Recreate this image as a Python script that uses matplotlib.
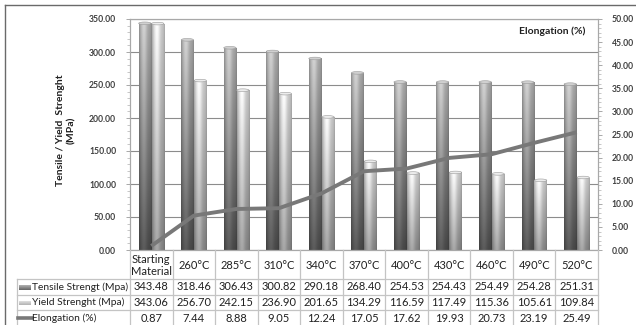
import numpy as np
import matplotlib
matplotlib.use("Agg")
import matplotlib.pyplot as plt
import matplotlib.transforms as mtransforms
from matplotlib.patches import Ellipse
from matplotlib.lines import Line2D

categories = ["Starting\nMaterial", "260°C", "285°C", "310°C", "340°C", "370°C",
              "400°C", "430°C", "460°C", "490°C", "520°C"]
tensile = [343.48, 318.46, 306.43, 300.82, 290.18, 268.40, 254.53, 254.43, 254.49, 254.28, 251.31]
yield_s = [343.06, 256.70, 242.15, 236.90, 201.65, 134.29, 116.59, 117.49, 115.36, 105.61, 109.84]
elong = [0.87, 7.44, 8.88, 9.05, 12.24, 17.05, 17.62, 19.93, 20.73, 23.19, 25.49]
row_labels = ["Tensile Strengt (Mpa)", "Yield Strenght (Mpa)", "Elongation (%)"]

W, H = 636, 325
fig = plt.figure(figsize=(W / 100, H / 100), dpi=100)
FONT = "Lato"

def fx(px):
    return px / W

def fy(py):
    return 1 - py / H

# plot area
L, R, T, B = 130, 598, 19, 250
ax = fig.add_axes([fx(L), fy(B), fx(R) - fx(L), fy(T) - fy(B)])
ax2 = ax.twinx()

n = len(categories)
x = np.arange(n)
bw = 0.29
ax.set_xlim(-0.5, n - 0.5)
ax.set_ylim(0, 350)
ax2.set_ylim(0, 50)

bars_t = ax.bar(x - 0.152, tensile, width=bw, facecolor="none", edgecolor="none")
bars_y = ax.bar(x + 0.152, yield_s, width=bw, facecolor="none", edgecolor="none")

def cyl_image(lo, hi, ny=64, nx=32):
    t = np.linspace(0, 1, ny)[:, None]
    s = np.linspace(0, 1, nx)[None, :]
    v = lo + (hi - lo) * t
    shade = 0.80 + 0.26 * np.exp(-((s - 0.38) / 0.26) ** 2)
    edge = 1 - 0.12 * (np.exp(-(s / 0.08) ** 2) + np.exp(-((1 - s) / 0.08) ** 2))
    img = np.clip(v * shade * edge, 0, 1)
    return img[::-1]

def draw_cyl(bars, lo, hi, cap):
    for p in bars.patches:
        x0, w, h = p.get_x(), p.get_width(), p.get_height()
        img = cyl_image(lo, hi)
        im = ax.imshow(img, cmap="gray", vmin=0, vmax=1, aspect="auto",
                       interpolation="bilinear", extent=(x0, x0 + w, 0, h), zorder=2)
        im.set_clip_path(p)
        ax.add_patch(Ellipse((x0 + w / 2, h), w, 4.0, facecolor=cap,
                             edgecolor="#9a9a9a", linewidth=0.4, zorder=3))

draw_cyl(bars_t, 0.34, 0.78, "#d0d0d0")
draw_cyl(bars_y, 0.62, 0.94, "#ececec")
ax.set_xlim(-0.5, n - 0.5)
ax.set_ylim(0, 350)

ax2.plot(x, elong, color="#787878", linewidth=2.8, solid_capstyle="butt", zorder=5)

# axes styling
ax.set_yticks(np.arange(0, 351, 50))
ax.set_yticks(np.arange(0, 351, 10), minor=True)
ax.set_yticklabels([f"{v:.2f}" for v in np.arange(0, 351, 50)])
ax2.set_yticks(np.arange(0, 51, 5))
ax2.set_yticks(np.arange(0, 51, 1), minor=True)
ax2.set_yticklabels([f"{v:.2f}" for v in np.arange(0, 51, 5)])
for a in (ax, ax2):
    a.tick_params(axis="y", which="major", labelsize=6.2, length=3, width=0.6,
                  color="#9a9a9a", labelcolor="#404040", pad=7)
    a.tick_params(axis="y", which="minor", length=2, width=0.5, color="#b0b0b0")
    for lab in a.get_yticklabels():
        lab.set_family(FONT)
        lab.set_fontweight("bold")
    for sp in a.spines.values():
        sp.set_color("#a8a8a8")
        sp.set_linewidth(0.8)
ax.set_xticks([])
ax2.set_xticks([])
ax.yaxis.grid(True, which="major", color="#8c8c8c", linewidth=0.8)
ax.set_axisbelow(True)

# labels
fig.text(fx(66), fy(130), "Tensile / Yield  Strenght\n(MPa)", rotation=90,
         ha="center", va="center", fontsize=7.5, fontweight="bold", family=FONT,
         linespacing=1.3, color="#202020")
fig.text(fx(585), fy(31), "Elongation (%)", ha="right", va="center", fontsize=7.5,
         fontweight="bold", family=FONT, color="#202020")

# outer frame
fig.add_artist(Line2D([fx(5), fx(5)], [fy(5), fy(330)], color="#6a6a6a", linewidth=1.0))
fig.add_artist(Line2D([fx(5), fx(640)], [fy(5), fy(5)], color="#6a6a6a", linewidth=1.0))

# data table
bt = mtransforms.blended_transform_factory(ax.transData, fig.transFigure)
grid_c = "#c4c4c4"
row_y = [279, 295, 310, 326]
for b in np.arange(-0.5, n, 1.0):
    fig.add_artist(Line2D([b, b], [fy(B), fy(330)], transform=bt, color=grid_c, linewidth=0.9))
fig.add_artist(Line2D([fx(17), fx(17)], [fy(row_y[0]), fy(330)], color=grid_c, linewidth=0.9))
for yy in row_y[:-1]:
    fig.add_artist(Line2D([fx(17), fx(R)], [fy(yy), fy(yy)], color=grid_c, linewidth=0.9))

for i, c in enumerate(categories):
    fig.text(i, fy((B + row_y[0]) / 2 + 1), c, transform=bt, ha="center", va="center",
             fontsize=8, family=FONT, color="#202020", linespacing=1.1)
rows = [tensile, yield_s, elong]
for r, vals in enumerate(rows):
    yc = (row_y[r] + row_y[r + 1]) / 2
    for i, v in enumerate(vals):
        fig.text(i, fy(yc), f"{v:.2f}", transform=bt, ha="center", va="center",
                 fontsize=8, family=FONT, color="#202020")
    fig.text(fx(32), fy(yc), row_labels[r], ha="left", va="center",
             fontsize=7.4, family=FONT, color="#202020")

# legend keys
def key_grad(y0, lo, hi):
    kax = fig.add_axes([fx(19), fy(y0 + 3), fx(31) - fx(19), fy(y0 - 2) - fy(y0 + 3)])
    g = np.linspace(hi, lo, 16)[:, None] * np.ones((1, 12))
    kax.imshow(g, cmap="gray", vmin=0, vmax=1, aspect="auto")
    kax.set_axis_off()

key_grad((row_y[0] + row_y[1]) / 2, 0.4, 0.75)
key_grad((row_y[1] + row_y[2]) / 2, 0.7, 0.92)
ye = (row_y[2] + row_y[3]) / 2
fig.add_artist(Line2D([fx(18), fx(32)], [fy(ye), fy(ye)], color="#787878", linewidth=2.6))

fig.savefig("out.png", dpi=100)
